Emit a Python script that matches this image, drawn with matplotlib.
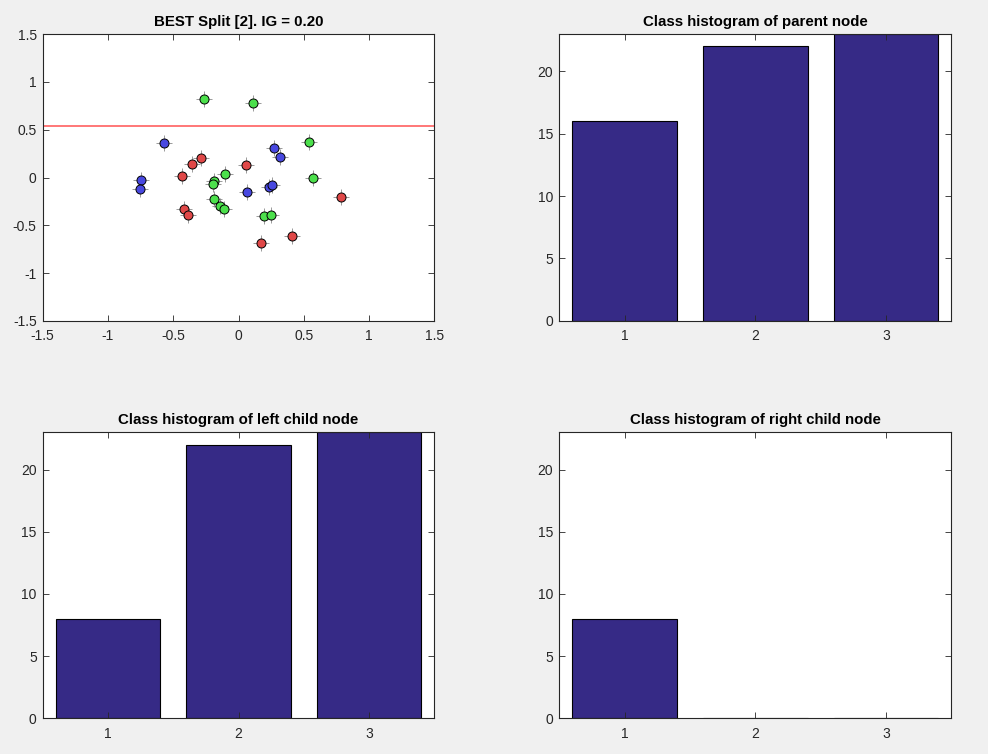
import matplotlib
matplotlib.use("Agg")
import matplotlib.pyplot as plt
from matplotlib.ticker import FormatStrFormatter

plt.rcParams['font.family'] = ['Liberation Sans', 'DejaVu Sans']
plt.rcParams['axes.unicode_minus'] = False

# scatter points of the best split
green_x = [-0.266, 0.112, 0.538, 0.568, -0.105, -0.187, -0.197, -0.184, -0.143, -0.110, 0.194, 0.252]
green_y = [0.82, 0.78, 0.375, -0.01, 0.034, -0.034, -0.066, -0.226, -0.295, -0.326, -0.403, -0.389]
blue_x = [-0.569, -0.748, -0.755, 0.275, 0.316, 0.066, 0.230, 0.257]
blue_y = [0.357, -0.028, -0.122, 0.3125, 0.216, -0.156, -0.101, -0.076]
red_x = [-0.286, -0.355, -0.432, 0.058, -0.416, -0.386, 0.785, 0.413, 0.173]
red_y = [0.205, 0.143, 0.014, 0.132, -0.330, -0.396, -0.201, -0.611, -0.684]
split_y = 0.54

classes = [1, 2, 3]
parent_counts = [16, 22, 23]
left_counts = [8, 22, 23]
right_counts = [8, 0, 0]

bar_color = '#362A86'
axis_color = '#262626'

fig = plt.figure(figsize=(9.88, 7.54), dpi=100)
fig.patch.set_facecolor('#F0F0F0')

W, H = 988.0, 754.0
def box(l, r, t, b):
    return [l / W, 1 - b / H, (r - l) / W, (b - t) / H]

ax1 = fig.add_axes(box(42.7, 434.3, 34, 321))
ax2 = fig.add_axes(box(559.3, 951.3, 34, 320.7))
ax3 = fig.add_axes(box(42.7, 434.3, 432.3, 718.3))
ax4 = fig.add_axes(box(559.3, 951.3, 432.3, 718.3))

def style(ax):
    for s in ax.spines.values():
        s.set_color(axis_color)
        s.set_linewidth(0.8)
    ax.tick_params(direction='in', length=4, width=0.6, colors=axis_color,
                   labelsize=10, top=True, right=True)
    ax.tick_params(axis='x', pad=6)
    ax.tick_params(axis='y', pad=4.3)
    for lab in ax.get_xticklabels() + ax.get_yticklabels():
        lab.set_color(axis_color)

# scatter panel
for xs, ys, c in [(red_x, red_y, '#E04848'), (green_x, green_y, '#4CE04C'), (blue_x, blue_y, '#4848E0')]:
    ax1.plot(xs, ys, '+', color='#8A8A8A', markersize=11, markeredgewidth=0.6, zorder=2)
    ax1.plot(xs, ys, 'o', markerfacecolor=c, markeredgecolor='black', markeredgewidth=0.7,
             markersize=6.5, linestyle='none', zorder=3)
ax1.axhline(split_y, color='#FF6060', linewidth=1.2, zorder=1)
ax1.set_xlim(-1.5, 1.5)
ax1.set_ylim(-1.5, 1.5)
ax1.set_xticks([-1.5, -1, -0.5, 0, 0.5, 1, 1.5])
ax1.set_yticks([-1.5, -1, -0.5, 0, 0.5, 1, 1.5])
ax1.xaxis.set_major_formatter(FormatStrFormatter('%g'))
ax1.yaxis.set_major_formatter(FormatStrFormatter('%g'))
ax1.set_title('BEST Split [2]. IG = 0.20', fontsize=10.8, fontweight='bold', pad=6)
style(ax1)

for ax, counts, title in [(ax2, parent_counts, 'Class histogram of parent node'),
                          (ax3, left_counts, 'Class histogram of left child node'),
                          (ax4, right_counts, 'Class histogram of right child node')]:
    ax.bar(classes, counts, width=0.8, color=bar_color, edgecolor='black', linewidth=0.8)
    ax.set_xlim(0.5, 3.5)
    ax.set_ylim(0, 23)
    ax.set_xticks(classes)
    ax.set_yticks([0, 5, 10, 15, 20])
    ax.set_title(title, fontsize=10.8, fontweight='bold', pad=6)
    style(ax)

fig.savefig('out.png', dpi=100, facecolor=fig.get_facecolor())
